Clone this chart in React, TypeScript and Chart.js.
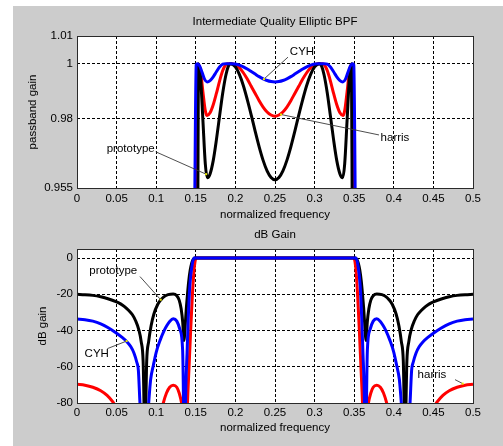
import { useEffect, useRef } from 'react';
import { Chart, registerables } from 'chart.js';

Chart.register(...registerables);

// ---------- tick values / labels ----------
const xTickValues = [0, 0.05, 0.1, 0.15, 0.2, 0.25, 0.3, 0.35, 0.4, 0.45, 0.5];
const xTickLabels = ['0', '0.05', '0.1', '0.15', '0.2', '0.25', '0.3', '0.35', '0.4', '0.45', '0.5'];
const passYTickValues = [0.955, 0.98, 1, 1.01];
const passYTickLabels = ['0.955', '0.98', '1', '1.01'];
const dbYTickValues = [-80, -60, -40, -20, 0];
const dbYTickLabels = ['-80', '-60', '-40', '-20', '0'];

// ---------- passband gain (top) ----------
const protoPassFreq = [0.1525, 0.1535, 0.156, 0.159, 0.162, 0.1645, 0.168, 0.172, 0.176, 0.18, 0.184, 0.188, 0.191, 0.194, 0.2, 0.205, 0.21, 0.215, 0.22, 0.225, 0.23, 0.235, 0.24, 0.245, 0.25, 0.255, 0.26, 0.265, 0.27, 0.275, 0.28, 0.285, 0.29, 0.295, 0.3, 0.306, 0.309, 0.312, 0.316, 0.32, 0.324, 0.328, 0.332, 0.3355, 0.338, 0.341, 0.344, 0.3465, 0.3475];
const protoPassGain = [0.945, 1.0, 0.995, 0.9794, 0.9637, 0.9587, 0.9601, 0.9649, 0.9724, 0.981, 0.9894, 0.9959, 0.999, 1.0, 0.9988, 0.9961, 0.9921, 0.987, 0.9814, 0.9755, 0.9699, 0.965, 0.9612, 0.9588, 0.958, 0.9588, 0.9612, 0.965, 0.9699, 0.9755, 0.9814, 0.987, 0.9921, 0.9961, 0.9988, 1.0, 0.999, 0.9959, 0.9894, 0.981, 0.9724, 0.9649, 0.9601, 0.9587, 0.9637, 0.9794, 0.995, 1.0, 0.945];

const harrisPassFreq = [0.1505, 0.153, 0.156, 0.159, 0.162, 0.1642, 0.168, 0.172, 0.176, 0.18, 0.184, 0.187, 0.19, 0.195, 0.2, 0.205, 0.21, 0.215, 0.22, 0.225, 0.23, 0.235, 0.24, 0.245, 0.25, 0.255, 0.26, 0.265, 0.27, 0.275, 0.28, 0.285, 0.29, 0.295, 0.3, 0.305, 0.31, 0.313, 0.316, 0.32, 0.324, 0.328, 0.332, 0.3358, 0.338, 0.341, 0.344, 0.347, 0.3495];
const harrisPassGain = [0.945, 0.9998, 0.9972, 0.9898, 0.983, 0.9812, 0.9822, 0.9851, 0.9892, 0.9937, 0.9975, 0.9993, 0.99995, 1.0, 0.9996, 0.9985, 0.9967, 0.9944, 0.9918, 0.9892, 0.9866, 0.9843, 0.9825, 0.9814, 0.981, 0.9814, 0.9825, 0.9843, 0.9866, 0.9892, 0.9918, 0.9944, 0.9967, 0.9985, 0.9996, 1.0, 0.99995, 0.9993, 0.9975, 0.9937, 0.9892, 0.9851, 0.9822, 0.9812, 0.983, 0.9898, 0.9972, 0.9998, 0.945];

const cyhPassFreq = [0.1485, 0.1505, 0.152, 0.155, 0.158, 0.161, 0.1642, 0.168, 0.172, 0.176, 0.18, 0.184, 0.188, 0.195, 0.2, 0.205, 0.21, 0.215, 0.22, 0.225, 0.23, 0.235, 0.24, 0.245, 0.25, 0.255, 0.26, 0.265, 0.27, 0.275, 0.28, 0.285, 0.29, 0.295, 0.3, 0.305, 0.312, 0.316, 0.32, 0.324, 0.328, 0.332, 0.3358, 0.339, 0.342, 0.345, 0.348, 0.3495, 0.3515];
const cyhPassGain = [0.945, 0.9995, 1.0, 0.9991, 0.9968, 0.9944, 0.99337, 0.99384, 0.99521, 0.99706, 0.99878, 0.99984, 1.0, 1.0, 0.99987, 0.99947, 0.99885, 0.99806, 0.99715, 0.99621, 0.9953, 0.99451, 0.99389, 0.9935, 0.99337, 0.9935, 0.99389, 0.99451, 0.9953, 0.99621, 0.99715, 0.99806, 0.99885, 0.99947, 0.99987, 1.0, 1.0, 0.99984, 0.99878, 0.99706, 0.99521, 0.99384, 0.99337, 0.9944, 0.9968, 0.9991, 1.0, 0.9995, 0.945];

// ---------- dB gain (bottom) ----------
const protoDbFreq = [0, 0.01, 0.02, 0.03, 0.04, 0.05, 0.055, 0.06, 0.065, 0.07, 0.074, 0.078, 0.081, 0.0835, 0.0858, 0.088, 0.0905, 0.0935, 0.097, 0.102, 0.106, 0.11, 0.115, 0.1215, 0.126, 0.129, 0.1315, 0.1335, 0.135, 0.1365, 0.138, 0.1395, 0.141, 0.143, 0.145, 0.147, 0.1485, 0.25, 0.3515, 0.353, 0.355, 0.357, 0.359, 0.3605, 0.362, 0.3635, 0.365, 0.3665, 0.3685, 0.371, 0.374, 0.3785, 0.385, 0.39, 0.394, 0.398, 0.403, 0.4065, 0.4095, 0.412, 0.4142, 0.4165, 0.419, 0.422, 0.426, 0.43, 0.435, 0.44, 0.445, 0.45, 0.46, 0.47, 0.48, 0.49, 0.5];
const protoDbGain = [-20, -20.2, -20.6, -21.4, -22.6, -24.2, -25.3, -26.8, -28.8, -31.3, -34.6, -39.5, -46, -57, -100, -57, -46, -37.5, -31, -25.5, -23, -21.3, -20.2, -19.8, -20.8, -23.2, -28, -35.5, -45.5, -38, -28, -20, -13, -6.5, -2.5, -0.5, 0, 0, 0, -0.5, -2.5, -6.5, -13, -20, -28, -38, -45.5, -35.5, -28, -23.2, -20.8, -19.8, -20.2, -21.3, -23, -25.5, -31, -37.5, -46, -57, -100, -57, -46, -39.5, -34.6, -31.3, -28.8, -26.8, -25.3, -24.2, -22.6, -21.4, -20.6, -20.2, -20];

const cyhDbFreq = [0, 0.01, 0.02, 0.03, 0.04, 0.05, 0.057, 0.063, 0.068, 0.072, 0.0755, 0.0775, 0.0795, 0.085, 0.0905, 0.093, 0.0965, 0.1, 0.105, 0.11, 0.1135, 0.117, 0.1215, 0.126, 0.13, 0.1334, 0.1358, 0.1375, 0.139, 0.1405, 0.1425, 0.1455, 0.1477, 0.25, 0.3523, 0.3545, 0.3575, 0.3595, 0.361, 0.3625, 0.3642, 0.3666, 0.37, 0.374, 0.3785, 0.383, 0.3865, 0.39, 0.395, 0.4, 0.4035, 0.407, 0.4095, 0.415, 0.4205, 0.4225, 0.4245, 0.428, 0.432, 0.437, 0.443, 0.45, 0.46, 0.47, 0.48, 0.49, 0.5];
const cyhDbGain = [-33.7, -34.0, -34.8, -36.3, -38.6, -41.5, -43.8, -46.2, -49, -52.5, -57.5, -62, -80, -115, -80, -67, -59, -52, -45.3, -40, -37.2, -35, -33.5, -34.8, -39.5, -51, -110, -70, -52, -33, -15, -3.5, 0, 0, 0, -3.5, -15, -33, -52, -70, -110, -51, -39.5, -34.8, -33.5, -35, -37.2, -40, -45.3, -52, -59, -67, -80, -115, -80, -62, -57.5, -52.5, -49, -46.2, -43.8, -41.5, -38.6, -36.3, -34.8, -34.0, -33.7];

const harrisDbFreq = [0, 0.01, 0.02, 0.03, 0.038, 0.045, 0.05, 0.06, 0.08, 0.1, 0.106, 0.109, 0.113, 0.117, 0.1215, 0.126, 0.129, 0.132, 0.1345, 0.1375, 0.1395, 0.1415, 0.1435, 0.1455, 0.1475, 0.149, 0.1505, 0.25, 0.3495, 0.351, 0.3525, 0.3545, 0.3565, 0.3585, 0.3605, 0.3625, 0.3655, 0.368, 0.371, 0.374, 0.3785, 0.383, 0.387, 0.391, 0.394, 0.4, 0.42, 0.44, 0.45, 0.455, 0.462, 0.47, 0.48, 0.49, 0.5];
const harrisDbGain = [-69.7, -70.2, -71.3, -73.2, -75.8, -79.3, -83, -95, -120, -95, -86, -80, -74.5, -71.3, -70.2, -71.3, -74.5, -80, -90, -110, -80, -60, -40, -22, -8, -2, 0, 0, 0, -2, -8, -22, -40, -60, -80, -110, -90, -80, -74.5, -71.3, -70.2, -71.3, -74.5, -80, -86, -95, -120, -95, -83, -79.3, -75.8, -73.2, -71.3, -70.2, -69.7];

// ---------- annotation placements ----------
const passNotes = [
  { text: 'CYH', tx: 0.2841, ty: 1.00436, x0: 0.2664, y0: 1.00236, x1: 0.236, y1: 0.9944 },
  { text: 'harris', tx: 0.4015, ty: 0.9731, x0: 0.3813, y0: 0.9742, x1: 0.2576, y1: 0.9816 },
  { text: 'prototype', tx: 0.0678, ty: 0.9691, x0: 0.0994, y0: 0.9681, x1: 0.163, y1: 0.96 },
];
const dbNotes = [
  { text: 'prototype', tx: 0.0458, ty: -7.3, x0: 0.0795, y0: -10.2, x1: 0.1057, y1: -23 },
  { text: 'CYH', tx: 0.0249, ty: -52.8, x0: 0.0383, y0: -50, x1: 0.0627, y1: -45.8 },
  { text: 'harris', tx: 0.4482, ty: -64.2, x0: 0.4773, y0: -67.1, x1: 0.487, y1: -69.3 },
];

const FONT_FAMILY = '"Liberation Sans", Arial, Helvetica, sans-serif';
const FONT_SIZE = 11.5;
const FONT = `${FONT_SIZE}px ${FONT_FAMILY}`;

const pts = (xs: number[], ys: number[]) => xs.map((x, i) => ({ x, y: ys[i] }));

const decorPlugin = {
  id: 'decor',
  beforeDraw(chart: any) {
    const { ctx, chartArea: a } = chart;
    ctx.save();
    ctx.fillStyle = '#ffffff';
    ctx.fillRect(a.left, a.top, a.right - a.left, a.bottom - a.top);
    ctx.restore();
  },
  afterDatasetsDraw(chart: any, _args: any, opts: any) {
    const { ctx, chartArea: a, scales } = chart;
    const xs = scales.x;
    const ys = scales.y;
    ctx.save();
    // plot box
    ctx.strokeStyle = '#2a2a2a';
    ctx.lineWidth = 1;
    ctx.setLineDash([]);
    const l = Math.round(a.left) + 0.5;
    const t = Math.round(a.top) + 0.5;
    const r = Math.round(a.right) + 0.5;
    const b = Math.round(a.bottom) + 0.5;
    ctx.strokeRect(l, t, r - l, b - t);

    // annotations
    ctx.font = FONT;
    ctx.textAlign = 'center';
    ctx.textBaseline = 'middle';
    const notes = opts.notes || [];
    for (let i = 0; i < notes.length; i++) {
      const n = notes[i];
      const px0 = xs.getPixelForValue(n.x0);
      const py0 = ys.getPixelForValue(n.y0);
      const px1 = xs.getPixelForValue(n.x1);
      const py1 = ys.getPixelForValue(n.y1);
      ctx.strokeStyle = '#3a3a3a';
      ctx.lineWidth = 0.9;
      ctx.beginPath();
      ctx.moveTo(px0, py0);
      ctx.lineTo(px1, py1);
      ctx.stroke();
      ctx.fillStyle = '#e8e800';
      ctx.fillRect(px1 - 1, py1 - 1, 2, 2);
      ctx.fillStyle = '#000000';
      ctx.fillText(n.text, xs.getPixelForValue(n.tx), ys.getPixelForValue(n.ty));
    }

    // titles
    ctx.fillStyle = '#000000';
    ctx.fillText(opts.title, (a.left + a.right) / 2, a.top - 14);
    ctx.fillText(opts.xTitle, (a.left + a.right) / 2, a.bottom + opts.xTitleGap);
    ctx.translate(opts.yTitleX, (a.top + a.bottom) / 2);
    ctx.rotate(-Math.PI / 2);
    ctx.fillText(opts.yTitle, 0, 0);
    ctx.restore();
  },
};

function makeConfig(
  datasets: any[],
  yMin: number,
  yMax: number,
  yTicks: number[],
  yLabels: string[],
  padTop: number,
  xAxisHeight: number,
  xTickPad: number,
  decor: any,
) {
  return {
    type: 'line' as const,
    data: { datasets },
    plugins: [decorPlugin],
    options: {
      animation: false,
      responsive: false,
      maintainAspectRatio: false,
      events: [],
      layout: { padding: { left: 0, right: 30, top: padTop, bottom: 0 } },
      plugins: {
        legend: { display: false },
        tooltip: { enabled: false },
        title: { display: false },
        decor,
      },
      scales: {
        x: {
          type: 'linear',
          min: 0,
          max: 0.5,
          afterBuildTicks: (s: any) => {
            s.ticks = xTickValues.map((v) => ({ value: v }));
          },
          afterFit: (s: any) => {
            s.height = xAxisHeight;
          },
          grid: { color: '#000000', lineWidth: 1, drawTicks: false },
          border: { display: false, dash: [3, 2] },
          ticks: {
            padding: xTickPad,
            autoSkip: false,
            maxRotation: 0,
            color: '#000000',
            font: { family: FONT_FAMILY, size: FONT_SIZE },
            callback: (_v: any, i: number) => xTickLabels[i],
          },
        },
        y: {
          type: 'linear',
          min: yMin,
          max: yMax,
          afterBuildTicks: (s: any) => {
            s.ticks = yTicks.map((v) => ({ value: v }));
          },
          afterFit: (s: any) => {
            s.width = 77;
          },
          grid: { color: '#000000', lineWidth: 1, drawTicks: false },
          border: { display: false, dash: [3, 2] },
          ticks: {
            padding: 4,
            autoSkip: false,
            color: '#000000',
            font: { family: FONT_FAMILY, size: FONT_SIZE },
            callback: (_v: any, i: number) => yLabels[i],
          },
        },
      },
    },
  };
}

const line = (data: any[], color: string, order: number) => ({
  data,
  borderColor: color,
  backgroundColor: color,
  borderWidth: 3,
  pointRadius: 0,
  fill: false,
  cubicInterpolationMode: 'monotone',
  borderJoinStyle: 'round',
  clip: 0,
  order,
});

export default function App() {
  const topRef = useRef<HTMLCanvasElement>(null);
  const botRef = useRef<HTMLCanvasElement>(null);

  useEffect(() => {
    const top = new Chart(
      topRef.current as HTMLCanvasElement,
      makeConfig(
        [
          line(pts(protoPassFreq, protoPassGain), '#000000', 1),
          line(pts(harrisPassFreq, harrisPassGain), '#ff0000', 2),
          line(pts(cyhPassFreq, cyhPassGain), '#0000ff', 0),
        ],
        0.955,
        1.01,
        passYTickValues,
        passYTickLabels,
        36,
        35,
        4,
        {
          title: 'Intermediate Quality Elliptic BPF',
          xTitle: 'normalized frequency',
          xTitleGap: 27,
          yTitle: 'passband gain',
          yTitleX: 33,
          notes: passNotes,
        },
      ) as any,
    );
    const bot = new Chart(
      botRef.current as HTMLCanvasElement,
      makeConfig(
        [
          line(pts(protoDbFreq, protoDbGain), '#000000', 1),
          line(pts(harrisDbFreq, harrisDbGain), '#ff0000', 2),
          line(pts(cyhDbFreq, cyhDbGain), '#0000ff', 0),
        ],
        -80,
        5,
        dbYTickValues,
        dbYTickLabels,
        26,
        43,
        3,
        {
          title: 'dB Gain',
          xTitle: 'normalized frequency',
          xTitleGap: 25,
          yTitle: 'dB gain',
          yTitleX: 43,
          notes: dbNotes,
        },
      ) as any,
    );
    return () => {
      top.destroy();
      bot.destroy();
    };
  }, []);

  return (
    <div style={{ position: 'fixed', left: 0, top: 0, width: 503, height: 446, background: '#ffffff', overflow: 'hidden' }}>
      <div style={{ position: 'absolute', left: 13, top: 6, width: 490, height: 440, background: '#cccccc' }} />
      <canvas ref={topRef} width={503} height={223} style={{ position: 'absolute', left: 0, top: 0, width: 503, height: 223, display: 'block' }} />
      <canvas ref={botRef} width={503} height={223} style={{ position: 'absolute', left: 0, top: 223, width: 503, height: 223, display: 'block' }} />
    </div>
  );
}
